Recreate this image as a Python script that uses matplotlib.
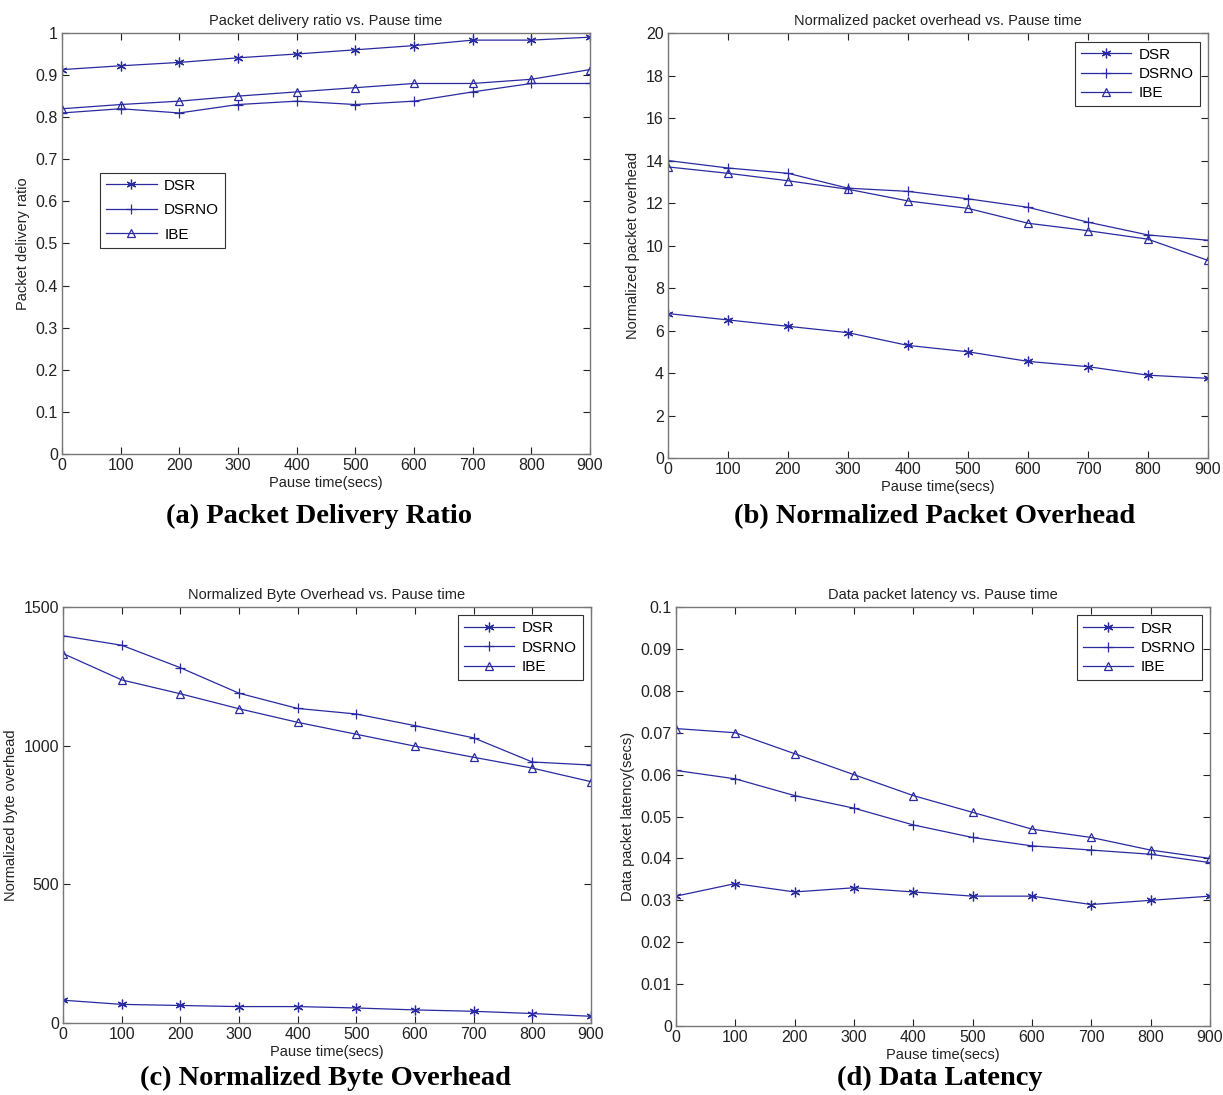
import matplotlib
matplotlib.use("Agg")
import matplotlib.pyplot as plt

pause = [0, 100, 200, 300, 400, 500, 600, 700, 800, 900]
series_names = ["DSR", "DSRNO", "IBE"]

pdr_dsr = [0.913, 0.922, 0.930, 0.941, 0.950, 0.960, 0.970, 0.983, 0.983, 0.990]
pdr_dsrno = [0.810, 0.820, 0.810, 0.830, 0.838, 0.830, 0.838, 0.860, 0.880, 0.880]
pdr_ibe = [0.820, 0.830, 0.838, 0.850, 0.860, 0.870, 0.880, 0.880, 0.890, 0.913]

npo_dsr = [6.8, 6.5, 6.2, 5.9, 5.3, 5.0, 4.55, 4.3, 3.9, 3.75]
npo_dsrno = [14.0, 13.65, 13.4, 12.7, 12.55, 12.2, 11.8, 11.1, 10.5, 10.25]
npo_ibe = [13.7, 13.4, 13.05, 12.65, 12.1, 11.75, 11.05, 10.7, 10.3, 9.3]

nbo_dsr = [82, 67, 63, 59, 59, 54, 47, 42, 34, 24]
nbo_dsrno = [1396, 1362, 1281, 1189, 1134, 1114, 1072, 1028, 941, 930]
nbo_ibe = [1332, 1237, 1187, 1133, 1084, 1041, 998, 958, 919, 870]

lat_dsr = [0.031, 0.034, 0.032, 0.033, 0.032, 0.031, 0.031, 0.029, 0.030, 0.031]
lat_dsrno = [0.061, 0.059, 0.055, 0.052, 0.048, 0.045, 0.043, 0.042, 0.041, 0.039]
lat_ibe = [0.071, 0.070, 0.065, 0.060, 0.055, 0.051, 0.047, 0.045, 0.042, 0.040]

titles = ["Packet delivery ratio vs. Pause time",
          "Normalized packet overhead vs. Pause time",
          "Normalized Byte Overhead vs. Pause time",
          "Data packet latency vs. Pause time"]
ylabels = ["Packet delivery ratio", "Normalized packet overhead",
           "Normalized byte overhead", "Data packet latency(secs)"]
captions = ["(a) Packet Delivery Ratio", "(b) Normalized Packet Overhead",
            "(c) Normalized Byte Overhead", "(d) Data Latency"]
xlabel = "Pause time(secs)"

yticks_list = [
    [0, 0.1, 0.2, 0.3, 0.4, 0.5, 0.6, 0.7, 0.8, 0.9, 1],
    [0, 2, 4, 6, 8, 10, 12, 14, 16, 18, 20],
    [0, 500, 1000, 1500],
    [0, 0.01, 0.02, 0.03, 0.04, 0.05, 0.06, 0.07, 0.08, 0.09, 0.1],
]
ytick_labels = [
    ["0", "0.1", "0.2", "0.3", "0.4", "0.5", "0.6", "0.7", "0.8", "0.9", "1"],
    ["0", "2", "4", "6", "8", "10", "12", "14", "16", "18", "20"],
    ["0", "500", "1000", "1500"],
    ["0", "0.01", "0.02", "0.03", "0.04", "0.05", "0.06", "0.07", "0.08", "0.09", "0.1"],
]
data = [
    (pdr_dsr, pdr_dsrno, pdr_ibe),
    (npo_dsr, npo_dsrno, npo_ibe),
    (nbo_dsr, nbo_dsrno, nbo_ibe),
    (lat_dsr, lat_dsrno, lat_ibe),
]

plt.rcParams['font.family'] = ['Liberation Sans', 'DejaVu Sans']

fig = plt.figure(figsize=(12.23, 10.95), dpi=100)
positions = [
    [0.0507, 0.5854, 0.4317, 0.3845],
    [0.5462, 0.5817, 0.4415, 0.3881],
    [0.0515, 0.0658, 0.4317, 0.3799],
    [0.5527, 0.0630, 0.4366, 0.3826],
]
legend_locs = [
    dict(loc="lower left", bbox_to_anchor=(0.072, 0.49), labelspacing=0.68),
    dict(loc="upper right", bbox_to_anchor=(0.985, 0.98), labelspacing=0.35),
    dict(loc="upper right", bbox_to_anchor=(0.985, 0.98), labelspacing=0.35),
    dict(loc="upper right", bbox_to_anchor=(0.985, 0.98), labelspacing=0.35),
]
caption_pos = [(0.261, 0.528), (0.7645, 0.528), (0.266, 0.0155), (0.7686, 0.0155)]

color = "#2a2aa0"
asterisk = (6, 2, 0)
markers = [asterisk, "+", "^"]

for i in range(4):
    ax = fig.add_axes(positions[i])
    for name, vals, mk in zip(series_names, data[i], markers):
        ax.plot(pause, vals, color=color, linewidth=0.9, marker=mk,
                markersize=7 if mk != "^" else 6,
                markerfacecolor="none" if mk == "^" else color,
                markeredgecolor=color, markeredgewidth=0.9, label=name)
    ax.set_xlim(0, 900)
    ax.set_ylim(yticks_list[i][0], yticks_list[i][-1])
    ax.set_xticks(pause)
    ax.set_xticklabels([str(p) for p in pause])
    ax.set_yticks(yticks_list[i])
    ax.set_yticklabels(ytick_labels[i])
    ax.tick_params(direction="in", top=True, right=True, length=5, width=0.8,
                   labelsize=11.5, colors="#222222", pad=3)
    for s in ax.spines.values():
        s.set_color("#777777")
        s.set_linewidth(1.0)
    ax.set_title(titles[i], fontsize=10.5, pad=6, color="#222222")
    ax.set_xlabel(xlabel, fontsize=10.5, labelpad=2, color="#222222")
    ax.set_ylabel(ylabels[i], fontsize=10.5, labelpad=4, color="#222222")
    leg = ax.legend(fontsize=11, fancybox=False, framealpha=1, edgecolor="#333333",
                    handlelength=3.3, borderpad=0.4,
                    handletextpad=0.5, borderaxespad=0, **legend_locs[i])
    leg.get_frame().set_linewidth(0.8)
    fig.text(caption_pos[i][0], caption_pos[i][1], captions[i], ha="center", va="center",
             fontsize=20.5, fontweight="bold", family="Liberation Serif")

fig.savefig("out.png", dpi=100, facecolor="white")
